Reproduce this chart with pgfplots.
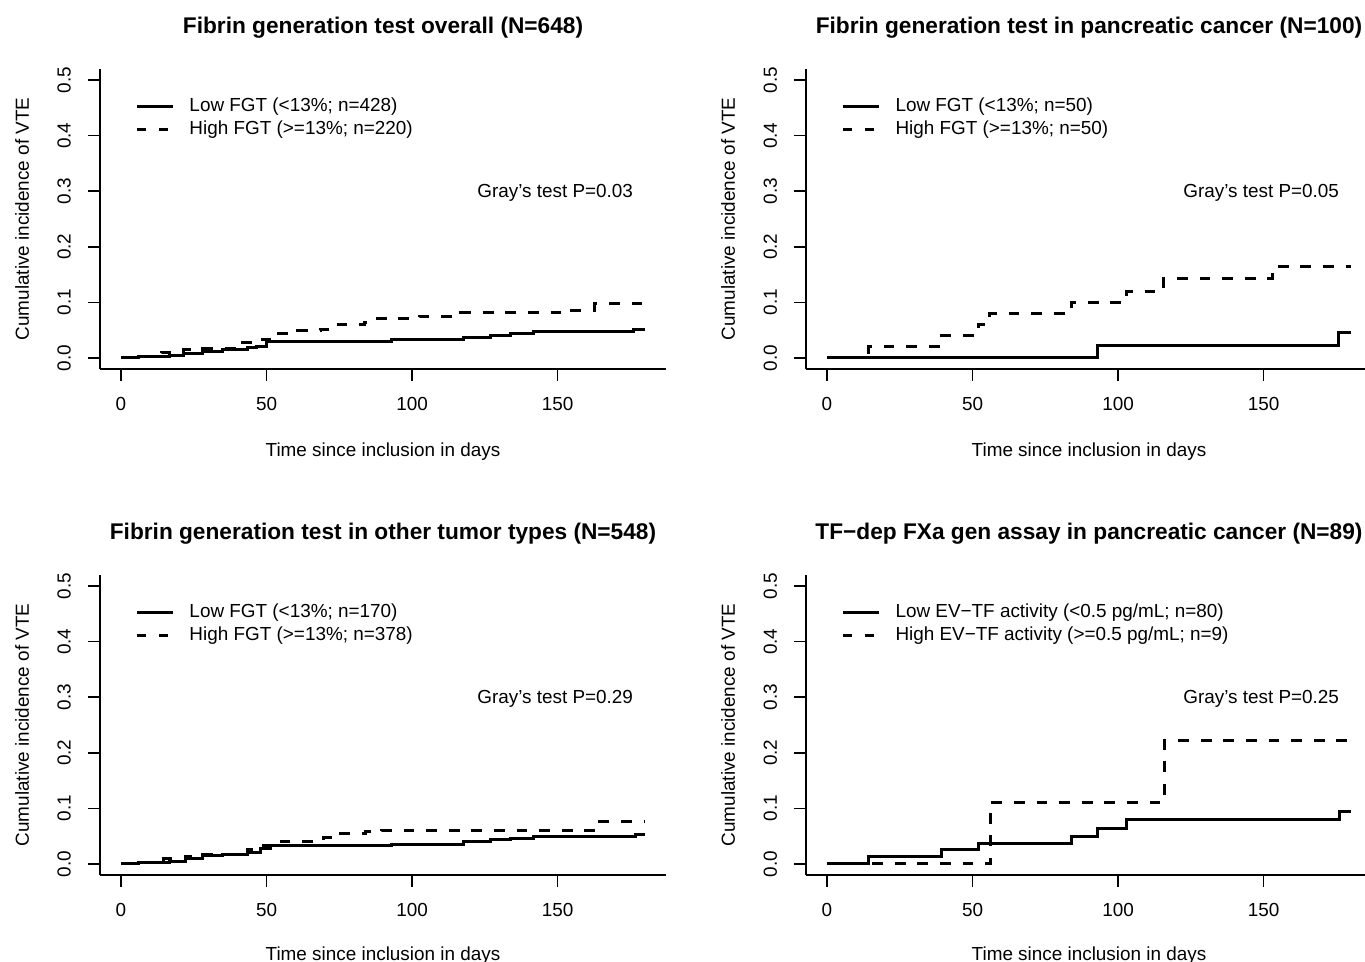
\documentclass[border=0pt]{standalone}
\usepackage{fontspec}
\setmainfont{Liberation Sans}
\usepackage{pgfplots}
\pgfplotsset{compat=1.18}
\newcommand{\basefont}{\fontsize{9.45}{11}\selectfont}
\newcommand{\titlefont}{\fontsize{11.34}{13}\selectfont\bfseries}
\pgfplotsset{
  km/.style={
    scale only axis, width=283pt, height=150pt,
    xmin=-7.2, xmax=187.2, ymin=-0.02, ymax=0.52,
    axis x line*=bottom, axis y line*=left,
    axis line style={-, line width=0.75pt, black},
    tick style={line width=0.75pt, black},
    major tick length=5.8pt, tick align=outside,
    xtick={0,50,100,150}, ytick={0,0.1,0.2,0.3,0.4,0.5},
    yticklabels={0.0,0.1,0.2,0.3,0.4,0.5},
    xticklabels={0,50,100,150},
    /pgf/number format/assume math mode=true,
    tick label style={font=\basefont},
    xticklabel style={yshift=-4.8pt},
    yticklabel style={xshift=-5.2pt, rotate=90, anchor=south},
    clip=false,
  },
  solidkm/.style={const plot, no marks, black, line width=1.5pt},
  dashkm/.style={const plot, no marks, black, line width=1.5pt, dash pattern=on 5.4pt off 5.9pt},
}
\newcommand{\decor}[5]{%
  \node[font=\titlefont] at ([yshift=20.5pt]rel axis cs:0.5,1) {#1};
  \node[font=\basefont] at ([yshift=#5]rel axis cs:0.5,0) {Time since inclusion in days};
  \node[font=\basefont, rotate=90] at ([xshift=-39pt]rel axis cs:0,0.5) {Cumulative incidence of VTE};
  \draw[line width=1.5pt] (axis cs:5.5,0.4525) -- (axis cs:17.9,0.4525);
  \draw[line width=1.5pt, dash pattern=on 4.5pt off 6.5pt] (axis cs:5.5,0.411) -- (axis cs:17.9,0.411);
  \node[font=\basefont, anchor=west, inner sep=0pt] at (axis cs:23.4,0.4525) {#2};
  \node[font=\basefont, anchor=west, inner sep=0pt] at (axis cs:23.4,0.411) {#3};
  \node[font=\basefont, anchor=east, inner sep=0pt] at (axis cs:176,0.2966) {#4};
}
\begin{document}
\begin{tikzpicture}
\path[use as bounding box] (0,0) rectangle (682.5pt,481pt);

% Panel 1
\begin{axis}[km, at={(50pt,296.5pt)}, anchor=south west]
\addplot[solidkm] coordinates {(0,0) (6,0.0025) (16.6,0.0043) (21.5,0.0086) (28,0.0123) (35,0.0153) (43.6,0.0184) (46.6,0.0209) (50,0.0288) (93,0.0337) (117.8,0.0362) (127,0.0399) (133.8,0.0436) (141.8,0.0466) (176,0.0515) (180,0.0515)};
\addplot[dashkm] coordinates {(0,0) (7,0.0025) (14,0.0104) (21.5,0.0147) (28,0.0166) (41.7,0.027) (48.5,0.0337) (52.8,0.044) (60.8,0.049) (68.7,0.0515) (73.6,0.0595) (83.5,0.064) (87.2,0.070) (102.5,0.075) (116.6,0.081) (154,0.086) (162.6,0.098) (180,0.098)};
\decor{Fibrin generation test overall (N=648)}{Low FGT (<13\%; n=428)}{High FGT (>=13\%; n=220)}{Gray’s test P=0.03}{-41.5pt}
\end{axis}

% Panel 2
\begin{axis}[km, at={(403pt,296.5pt)}, anchor=south west]
\addplot[solidkm] coordinates {(0,0) (93,0.0217) (175.7,0.046) (180,0.046)};
\addplot[dashkm] coordinates {(0,0) (14.1,0.02) (39.5,0.04) (52,0.06) (55.7,0.08) (83.9,0.10) (102.9,0.12) (115.7,0.143) (153,0.165) (180,0.165)};
\decor{Fibrin generation test in pancreatic cancer (N=100)}{Low FGT (<13\%; n=50)}{High FGT (>=13\%; n=50)}{Gray’s test P=0.05}{-41.5pt}
\end{axis}

% Panel 3
\begin{axis}[km, at={(50pt,43.5pt)}, anchor=south west]
\addplot[solidkm] coordinates {(0,0) (6,0.0025) (16.6,0.0049) (22,0.0092) (28,0.0153) (35,0.0166) (43.6,0.0203) (48,0.0282) (51.5,0.0325) (93,0.0356) (117.8,0.0399) (127,0.043) (133.8,0.046) (141.8,0.049) (176.7,0.0528) (180,0.0528)};
\addplot[dashkm] coordinates {(0,0) (6,0.0025) (14.7,0.0092) (22,0.0141) (28,0.0166) (43.6,0.0252) (49,0.0325) (51.5,0.0356) (55,0.0405) (69.4,0.047) (74,0.0546) (84,0.0577) (89.6,0.0607) (164.5,0.0761) (180,0.0761)};
\decor{Fibrin generation test in other tumor types (N=548)}{Low FGT (<13\%; n=170)}{High FGT (>=13\%; n=378)}{Gray’s test P=0.29}{-40.3pt}
\end{axis}

% Panel 4
\begin{axis}[km, at={(403pt,43.5pt)}, anchor=south west]
\addplot[solidkm] coordinates {(0,0) (14.1,0.0125) (39.2,0.025) (52,0.0375) (84.1,0.05) (93,0.064) (103,0.079) (176,0.094) (180,0.094)};
\addplot[dashkm] coordinates {(0,0) (56,0.111) (116,0.222) (180,0.222)};
\decor{TF−dep FXa gen assay in pancreatic cancer (N=89)}{Low EV−TF activity (<0.5 pg/mL; n=80)}{High EV−TF activity (>=0.5 pg/mL; n=9)}{Gray’s test P=0.25}{-40.3pt}
\end{axis}
\end{tikzpicture}
\end{document}
